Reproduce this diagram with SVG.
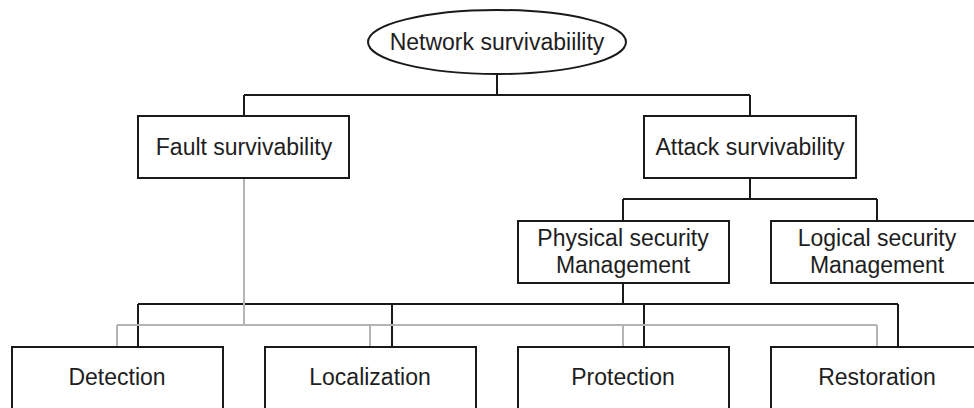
<svg xmlns="http://www.w3.org/2000/svg" width="974" height="408" viewBox="0 0 974 408">
  <style>
    .box { fill: #ffffff; stroke: #1a1a1a; stroke-width: 2; }
    .lbl { font-family: "Liberation Sans", Arial, sans-serif; font-size: 23px; fill: #1e1e1e; text-anchor: middle; }
    .link { fill: none; stroke: #1a1a1a; stroke-width: 2; }
    .link-grey { fill: none; stroke: #b4b4b4; stroke-width: 2; }
  </style>
  <rect width="974" height="408" fill="#ffffff"/>

  <!-- connectors -->
  <g id="connectors">
    <!-- root to second level -->
    <path class="link" d="M497 74 V95 M244 95 H750 M244 95 V116 M750 95 V116"/>
    <!-- attack survivability to security management -->
    <path class="link" d="M750 178 V199 M623 199 H877 M623 199 V221 M877 199 V221"/>
    <!-- physical security management to the four functions -->
    <path class="link" d="M623 283 V304 M138 304 H898 M138 304 V347 M392 304 V347 M644 304 V347 M898 304 V347"/>
    <!-- fault survivability to the four functions -->
    <path class="link-grey" d="M244 178 V325 M117 325 H877 M117 325 V347 M370 325 V347 M623 325 V347 M877 325 V347"/>
  </g>

  <g id="network-survivability">
    <ellipse class="box" cx="497" cy="42" rx="129" ry="32"/>
    <text class="lbl" x="497" y="50">Network survivabiility</text>
  </g>

  <g id="fault-survivability">
    <rect class="box" x="138" y="116" width="211" height="62"/>
    <text class="lbl" x="244" y="155">Fault survivability</text>
  </g>

  <g id="attack-survivability">
    <rect class="box" x="644" y="116" width="212" height="62"/>
    <text class="lbl" x="750" y="155">Attack survivability</text>
  </g>

  <g id="physical-security">
    <rect class="box" x="518" y="221" width="211" height="62"/>
    <text class="lbl" x="623" y="246">Physical security</text>
    <text class="lbl" x="623" y="273">Management</text>
  </g>

  <g id="logical-security">
    <rect class="box" x="771" y="221" width="212" height="62"/>
    <text class="lbl" x="877" y="246">Logical security</text>
    <text class="lbl" x="877" y="273">Management</text>
  </g>

  <g id="detection">
    <rect class="box" x="12" y="347" width="211" height="75"/>
    <text class="lbl" x="117" y="385">Detection</text>
  </g>

  <g id="localization">
    <rect class="box" x="265" y="347" width="211" height="75"/>
    <text class="lbl" x="370" y="385">Localization</text>
  </g>

  <g id="protection">
    <rect class="box" x="518" y="347" width="211" height="75"/>
    <text class="lbl" x="623" y="385">Protection</text>
  </g>

  <g id="restoration">
    <rect class="box" x="771" y="347" width="212" height="75"/>
    <text class="lbl" x="877" y="385">Restoration</text>
  </g>
</svg>
